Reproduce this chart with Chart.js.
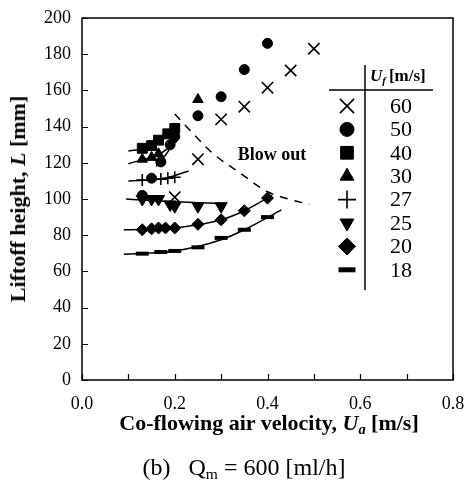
<!DOCTYPE html>
<html>
<head>
<meta charset="utf-8">
<script src="https://cdn.jsdelivr.net/npm/chart.js@4"></script>
<style>
  body { margin: 0; background: #fff; }
  #wrap { position: relative; width: 464px; height: 480px; font-family: "Liberation Serif", "Times New Roman", serif; color: #000; overflow: hidden; }
  #chart { position: absolute; left: 0; top: 0; }
  .ttl { position: absolute; white-space: nowrap; font-weight: bold; font-size: 22px; transform: translate(-50%, -50%); }
  #ytitle { left: 18px; top: 199px; transform: translate(-50%, -50%) rotate(-90deg); }
  #xtitle { left: 269px; top: 423px; }
  #caption { position: absolute; left: 244px; top: 467px; transform: translate(-50%, -50%); white-space: nowrap; font-size: 24px; }
  sub { font-size: 0.65em; vertical-align: -0.3em; line-height: 0; }
</style>
</head>
<body>
<div id="wrap">
  <canvas id="chart" width="464" height="480"></canvas>
  <div class="ttl" id="ytitle">Liftoff height, <i>L</i> [mm]</div>
  <div class="ttl" id="xtitle">Co-flowing air velocity, <i>U<sub>a</sub></i> [m/s]</div>
  <div id="caption">(b)&nbsp;&nbsp; Q<sub>m</sub> = 600 [ml/h]</div>
</div>
<script>
// fuel jet velocity groups U_f [m/s]
const ufLabels = ['60', '50', '40', '30', '27', '25', '20', '18'];

// measured liftoff heights, Ua [m/s] vs L [mm]
const ua60 = [0.2, 0.25, 0.3, 0.35, 0.4, 0.45, 0.5];
const L60 = [101, 122, 144, 151, 161.5, 171, 183];
const ua50 = [0.13, 0.15, 0.17, 0.19, 0.2, 0.25, 0.3, 0.35, 0.4];
const L50 = [102, 111.5, 120.5, 130, 134.5, 146, 156.5, 171.5, 186];
const ua40 = [0.13, 0.15, 0.165, 0.185, 0.2];
const L40 = [128, 129.5, 132.5, 136, 139];
const ua30 = [0.13, 0.15, 0.165, 0.25];
const L30 = [122, 123, 125, 155];
const ua27 = [0.13, 0.17, 0.185, 0.2];
const L27 = [110.5, 111, 111.5, 112];
const ua25 = [0.13, 0.15, 0.165, 0.19, 0.2, 0.25, 0.3];
const L25 = [100, 100, 100, 97, 96, 96, 96];
const ua20 = [0.13, 0.15, 0.165, 0.18, 0.2, 0.25, 0.3, 0.35, 0.4];
const L20 = [83, 83.5, 84, 84, 84, 86, 88.5, 93.5, 100.5];
const ua18 = [0.13, 0.17, 0.2, 0.25, 0.3, 0.35, 0.4];
const L18 = [69.8, 70.7, 71.3, 73.3, 78.5, 83, 90];

// trend curves
const fit50x = [0.16, 0.185, 0.207];
const fit50y = [118, 126, 137];
const fit40x = [0.1, 0.15, 0.2];
const fit40y = [126.5, 129, 140];
const fit30x = [0.1, 0.168, 0.205];
const fit30y = [119.5, 125, 132];
const fit27x = [0.1, 0.17, 0.23];
const fit27y = [110, 111, 115.5];
const fit25x = [0.095, 0.2, 0.31];
const fit25y = [100, 98.5, 97.5];
const fit20x = [0.09, 0.2, 0.3, 0.35, 0.41];
const fit20y = [83, 84, 88.5, 93.5, 102];
const fit18x = [0.09, 0.2, 0.3, 0.35, 0.43];
const fit18y = [69.5, 71.3, 77.5, 83, 94];

// blow-out limit
const blowX = [0.2, 0.24, 0.283, 0.34, 0.4, 0.445, 0.49];
const blowY = [147, 136, 125, 114.5, 104, 100, 97];

const xTicks = [0, 0.1, 0.2, 0.3, 0.4, 0.5, 0.6, 0.7, 0.8];
const yTicks = [0, 20, 40, 60, 80, 100, 120, 140, 160, 180, 200];

const serif = '"Liberation Serif", "Times New Roman", serif';

const pts = (xs, ys) => xs.map((x, i) => ({ x: x, y: ys[i] }));

// marker look for each U_f group (plot size, legend size)
const markers = [
  { style: 'crossRot', r: 8, lr: 10, bw: 1.6 },
  { style: 'circle', r: 5, lr: 7, bw: 1 },
  { style: 'rect', r: 7, lr: 9, bw: 1 },
  { style: 'triangle', r: 6, lr: 8, bw: 1 },
  { style: 'cross', r: 6, lr: 9, bw: 1.6 },
  { style: 'triangle', r: 7, lr: 8, bw: 1, rot: 180 },
  { style: 'rectRot', r: 6, lr: 8.5, bw: 1 },
  { style: 'line', r: 6.5, lr: 8.5, bw: 4 }
];
const series = [
  pts(ua60, L60), pts(ua50, L50), pts(ua40, L40), pts(ua30, L30),
  pts(ua27, L27), pts(ua25, L25), pts(ua20, L20), pts(ua18, L18)
];

const datasets = series.map((d, i) => ({
  label: ufLabels[i],
  data: d,
  showLine: false,
  order: 1,
  pointStyle: markers[i].style,
  pointRadius: markers[i].r,
  pointRotation: markers[i].rot || 0,
  pointBorderWidth: markers[i].bw,
  pointBackgroundColor: '#000',
  pointBorderColor: '#000'
}));

[[fit50x, fit50y], [fit40x, fit40y], [fit30x, fit30y], [fit27x, fit27y],
 [fit25x, fit25y], [fit20x, fit20y], [fit18x, fit18y]].forEach(f => {
  datasets.push({
    data: pts(f[0], f[1]),
    showLine: true,
    order: 2,
    borderColor: '#000',
    borderWidth: 1.5,
    pointRadius: 0,
    cubicInterpolationMode: 'monotone'
  });
});

datasets.push({
  data: pts(blowX, blowY),
  showLine: true,
  order: 2,
  borderColor: '#000',
  borderWidth: 1.5,
  borderDash: [8, 7],
  pointRadius: 0,
  cubicInterpolationMode: 'monotone'
});

const frame = {
  id: 'frame',
  afterDraw(chart) {
    const { ctx, chartArea: a, scales: { x, y } } = chart;
    ctx.save();
    ctx.strokeStyle = '#000';
    ctx.lineWidth = 1.5;
    ctx.strokeRect(a.left, a.top, a.right - a.left, a.bottom - a.top);

    // inward tick marks
    ctx.lineWidth = 1.2;
    ctx.beginPath();
    xTicks.forEach(v => {
      const px = Math.round(x.getPixelForValue(v)) + 0.5;
      ctx.moveTo(px, a.bottom);
      ctx.lineTo(px, a.bottom - 6);
    });
    yTicks.forEach(v => {
      const py = Math.round(y.getPixelForValue(v)) + 0.5;
      ctx.moveTo(a.left, py);
      ctx.lineTo(a.left + 6, py);
    });
    ctx.stroke();

    // blow-out label
    ctx.fillStyle = '#000';
    ctx.font = 'bold 18px ' + serif;
    ctx.textBaseline = 'middle';
    ctx.fillText('Blow out', x.getPixelForValue(0.336), y.getPixelForValue(124));

    // legend table
    ctx.lineWidth = 1.5;
    ctx.beginPath();
    ctx.moveTo(365, 65); ctx.lineTo(365, 290);
    ctx.moveTo(329, 90); ctx.lineTo(433, 90);
    ctx.stroke();

    let hx = 370;
    ctx.textBaseline = 'alphabetic';
    ctx.font = 'italic bold 17px ' + serif;
    ctx.fillText('U', hx, 81);
    hx += ctx.measureText('U').width;
    ctx.font = 'italic bold 11px ' + serif;
    ctx.fillText('f', hx, 84);
    hx += ctx.measureText('f').width + 3;
    ctx.font = 'bold 17px ' + serif;
    ctx.fillText('[m/s]', hx, 81);

    ctx.font = '22px ' + serif;
    ctx.textAlign = 'center';
    ctx.textBaseline = 'middle';
    ufLabels.forEach((lab, i) => {
      const ry = 106 + i * 23.4;
      const m = markers[i];
      ctx.fillStyle = '#000';
      ctx.strokeStyle = '#000';
      ctx.lineWidth = m.style === 'line' ? 5 : m.bw;
      Chart.helpers.drawPoint(ctx, {
        pointStyle: m.style,
        radius: m.lr,
        rotation: m.rot || 0,
        borderWidth: m.style === 'line' ? 5 : m.bw
      }, 347, ry);
      ctx.fillText(lab, 401, ry + 1);
    });
    ctx.restore();
  }
};

new Chart(document.getElementById('chart'), {
  type: 'scatter',
  data: { datasets: datasets },
  options: {
    responsive: false,
    animation: false,
    layout: { padding: { top: 18, right: 11, bottom: 0, left: 0 } },
    plugins: { legend: { display: false }, tooltip: { enabled: false } },
    scales: {
      x: {
        type: 'linear',
        min: 0,
        max: 0.8,
        afterFit: s => { s.height = 100; s.paddingLeft = 0; s.paddingRight = 0; },
        afterBuildTicks: s => { s.ticks = xTicks.map(v => ({ value: v })); },
        grid: { display: false, drawTicks: false },
        border: { display: false },
        ticks: {
          padding: 13,
          color: '#000',
          font: { family: serif, size: 18 },
          callback: v => (Math.round(v * 10) % 2 === 0 ? v.toFixed(1) : '')
        }
      },
      y: {
        min: 0,
        max: 200,
        afterFit: s => { s.width = 82; s.paddingTop = 0; s.paddingBottom = 0; },
        afterBuildTicks: s => { s.ticks = yTicks.map(v => ({ value: v })); },
        grid: { display: false, drawTicks: false },
        border: { display: false },
        ticks: {
          padding: 11,
          color: '#000',
          font: { family: serif, size: 18 }
        }
      }
    }
  },
  plugins: [frame]
});
</script>
</body>
</html>
